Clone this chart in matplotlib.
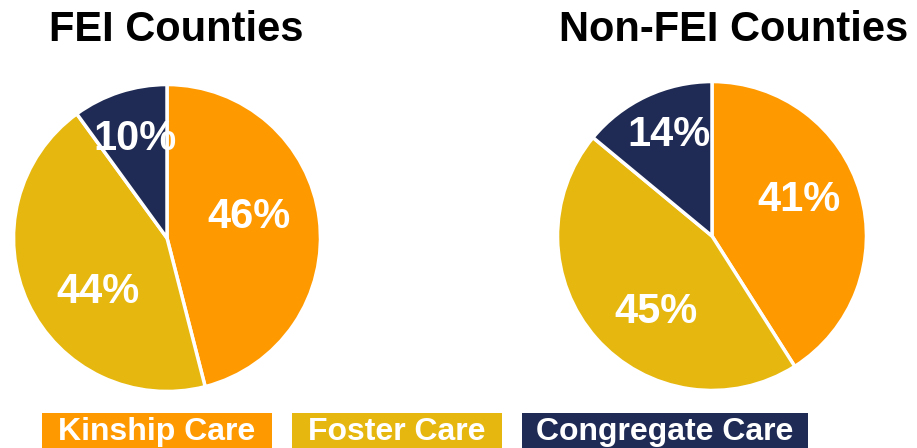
import matplotlib.pyplot as plt
from matplotlib.patches import Rectangle
import numpy as np

plt.rcParams['font.family'] = ['Liberation Sans', 'DejaVu Sans']

categories = ['Kinship Care', 'Foster Care', 'Congregate Care']
fei = [46, 44, 10]
non_fei = [41, 45, 14]
titles = ['FEI Counties', 'Non-FEI Counties']
colors = ['#FF9900', '#E6B70F', '#1F2B55']

W, H = 917, 448
fig = plt.figure(figsize=(W / 100, H / 100), dpi=100)


def pie_axes(cx, cy, r):
    # pixel centre / radius -> figure fraction
    return fig.add_axes([(cx - r) / W, (H - cy - r) / H, 2 * r / W, 2 * r / H])


def draw_pie(ax, values, label_r, label_shift):
    wedges, _ = ax.pie(values, colors=colors, startangle=90, counterclock=False,
                       radius=1.0, wedgeprops=dict(edgecolor='white', linewidth=2.5))
    for w, v, lr, sh in zip(wedges, values, label_r, label_shift):
        mid = np.deg2rad((w.theta1 + w.theta2) / 2 + sh)
        ax.text(lr * np.cos(mid), lr * np.sin(mid), f'{v}%', ha='center', va='center',
                color='white', fontsize=30, fontweight='bold')
    ax.set_xlim(-1.01, 1.01)
    ax.set_ylim(-1.01, 1.01)
    ax.axis('off')


ax1 = pie_axes(167, 238, 155)
draw_pie(ax1, fei, [0.55, 0.57, 0.68], [7, 13, 0])
ax2 = pie_axes(712, 236, 156)
draw_pie(ax2, non_fei, [0.61, 0.61, 0.71], [6, 12, -2])

fig.text(176 / W, 1 - 30 / H, titles[0], ha='center', va='center',
         fontsize=30, fontweight='bold')
fig.text(734 / W, 1 - 30 / H, titles[1], ha='center', va='center',
         fontsize=30, fontweight='bold')

# legend as coloured boxes with white text
box_x = [(42, 272), (292, 502), (522, 808)]
for (x0, x1), lab, c in zip(box_x, categories, colors):
    fig.patches.append(Rectangle((x0 / W, 0), (x1 - x0) / W, 35 / H,
                                 transform=fig.transFigure, fc=c, ec='none'))
    fig.text((x0 + x1) / 2 / W, 1 - 432 / H, lab, ha='center', va='center',
             color='white', fontsize=23, fontweight='bold')

fig.savefig('out.png', dpi=100)
